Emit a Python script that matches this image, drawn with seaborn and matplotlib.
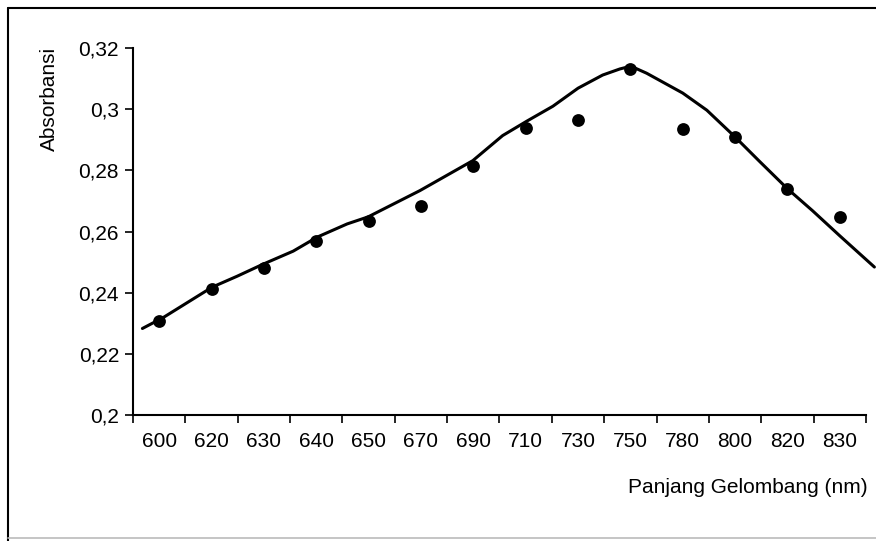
import matplotlib

matplotlib.use("Agg")
import matplotlib.pyplot as plt
import numpy as np
import seaborn as sns
from matplotlib.lines import Line2D
from matplotlib.ticker import FixedLocator, FuncFormatter

# measured absorbance at each wavelength
wavelengths = ["600", "620", "630", "640", "650", "670", "690",
               "710", "730", "750", "780", "800", "820", "830"]
absorbance = [0.2309, 0.2411, 0.2480, 0.2570, 0.2633, 0.2684, 0.2816,
              0.2938, 0.2964, 0.3132, 0.2934, 0.2908, 0.2740, 0.2648]

# trend curve (x in category units, y in absorbance)
curve_x = [-0.32, 0.08, 1.01, 1.49, 1.98, 2.56, 3.02, 3.59, 3.99, 4.22, 4.98,
           5.99, 6.56, 7.02, 7.52, 8.00, 8.47, 8.80, 9.01, 9.31, 10.00, 10.46,
           10.99, 11.47, 12.00, 12.48, 13.00, 13.66]
curve_y = [0.2283, 0.2319, 0.2418, 0.2454, 0.2493, 0.2536, 0.2582, 0.2625,
           0.2648, 0.2668, 0.2734, 0.2832, 0.2914, 0.2961, 0.3010, 0.3069,
           0.3112, 0.3132, 0.3141, 0.3118, 0.3053, 0.2997, 0.2911, 0.2829,
           0.2740, 0.2668, 0.2586, 0.2484]

y_ticks = [0.20, 0.22, 0.24, 0.26, 0.28, 0.30, 0.32]


def main() -> None:
    sns.set_theme(style="white", rc={
        "text.color": "black",
        "axes.labelcolor": "black",
        "xtick.color": "black",
        "ytick.color": "black",
    })
    plt.rcParams["font.family"] = ["Liberation Sans", "DejaVu Sans"]

    fig = plt.figure(figsize=(8.76, 5.41), dpi=100)
    ax = fig.add_axes([0.1518, 0.2329, 0.8368, 0.6781])

    positions = np.arange(len(wavelengths))
    sns.lineplot(x=curve_x, y=curve_y, sort=False, color="black", linewidth=2.2,
                 ax=ax, clip_on=False)
    sns.scatterplot(x=positions, y=absorbance, color="black", s=85,
                    edgecolor="black", linewidth=0, ax=ax, zorder=3)

    ax.set_xlim(-0.5, len(wavelengths) - 0.5)
    ax.set_ylim(0.2, 0.32)
    ax.set_xticks(positions)
    ax.set_xticklabels(wavelengths)
    ax.xaxis.set_minor_locator(FixedLocator(np.arange(len(wavelengths) + 1) - 0.5))
    ax.tick_params(axis="x", which="major", length=0, pad=12, labelsize=15)
    ax.tick_params(axis="x", which="minor", length=6, width=1.2, direction="out",
                   bottom=True, color="black")
    ax.set_yticks(y_ticks)
    ax.yaxis.set_major_formatter(FuncFormatter(lambda v, _: f"{v:g}".replace(".", ",")))
    ax.tick_params(axis="y", length=6, width=1.2, direction="out", left=True,
                   color="black", labelsize=15, pad=4)

    for side in ["top", "right"]:
        ax.spines[side].set_visible(False)
    for side in ["left", "bottom"]:
        ax.spines[side].set_color("black")
        ax.spines[side].set_linewidth(1.5)

    ax.set_xlabel("")
    ax.set_ylabel("")
    fig.text(0.990, 0.098, "Panjang Gelombang (nm)", ha="right", va="center",
             fontsize=15, color="black")
    fig.text(0.056, 0.818, "Absorbansi", rotation=90, ha="center", va="center",
             fontsize=15, color="black")

    # scanned frame around the chart
    fig.add_artist(Line2D([0.009, 0.009], [0.0, 0.985], transform=fig.transFigure,
                          color="black", linewidth=1.5))
    fig.add_artist(Line2D([0.009, 1.0], [0.985, 0.985], transform=fig.transFigure,
                          color="black", linewidth=1.5))
    fig.add_artist(Line2D([0.009, 1.0], [0.006, 0.006], transform=fig.transFigure,
                          color="#bbbbbb", linewidth=1.2))

    fig.savefig("out.png", dpi=100, facecolor="white")
    plt.close(fig)


if __name__ == "__main__":
    main()
